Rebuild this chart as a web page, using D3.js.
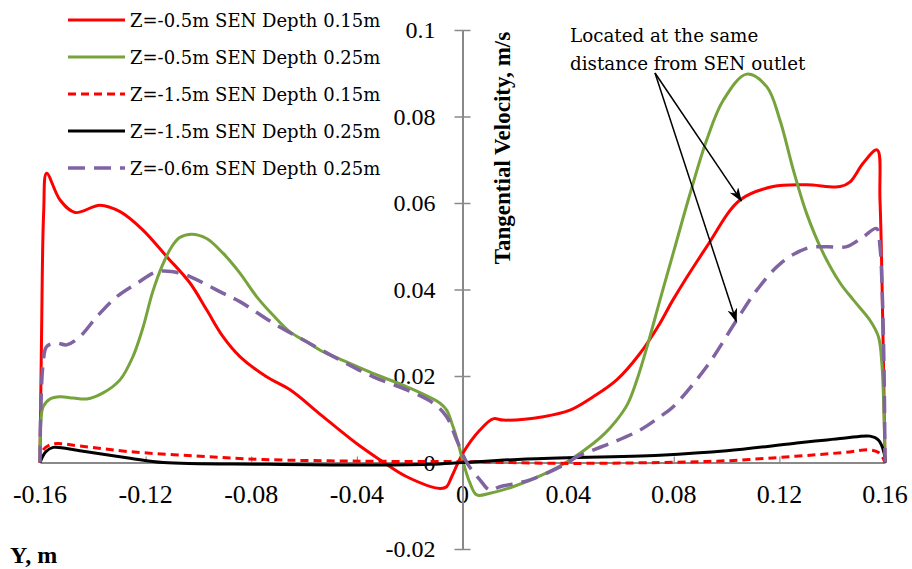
<!DOCTYPE html>
<html>
<head>
<meta charset="utf-8">
<script src="https://cdn.jsdelivr.net/npm/d3@7"></script>
<style>
  body { margin: 0; background: #fff; }
  svg { display: block; }
</style>
</head>
<body>
<div id="root"></div>
<script>
// series: [Y (m), tangential velocity (m/s)]
var redSolid = [
  [-0.1600, 0], [-0.1594, 0.0300], [-0.1586, 0.0580], [-0.1575, 0.0669],
  [-0.1524, 0.0607], [-0.1467, 0.0578], [-0.1373, 0.0595], [-0.1297, 0.0580],
  [-0.1211, 0.0538], [-0.1120, 0.0476], [-0.1032, 0.0415], [-0.0969, 0.0353],
  [-0.0907, 0.0291], [-0.0843, 0.0245], [-0.0742, 0.0198], [-0.0653, 0.0168],
  [-0.0528, 0.0106], [-0.0401, 0.0044], [-0.0312, 0.0006], [-0.0211, -0.0033],
  [-0.0085, -0.0060], [-0.0060, -0.0056], [-0.0041, -0.0033], [0.0002, 0.0022],
  [0.0066, 0.0075], [0.0116, 0.0101], [0.0155, 0.0098], [0.0306, 0.0106],
  [0.0407, 0.0121], [0.0495, 0.0152], [0.0584, 0.0191], [0.0672, 0.0252],
  [0.0748, 0.0322], [0.0797, 0.0376], [0.0925, 0.0499], [0.1051, 0.0607],
  [0.1176, 0.0638], [0.1303, 0.0642], [0.1430, 0.0638], [0.1468, 0.0649],
  [0.1517, 0.0692], [0.1570, 0.0723], [0.1581, 0.0607], [0.1592, 0.0306],
  [0.1600, 0]
];
var greenSolid = [
  [-0.1600, 0], [-0.1597, 0.0091], [-0.1588, 0.0129], [-0.1562, 0.0147],
  [-0.1524, 0.0152], [-0.1474, 0.0149], [-0.1423, 0.0147], [-0.1361, 0.0161],
  [-0.1297, 0.0191], [-0.1248, 0.0245], [-0.1211, 0.0310], [-0.1173, 0.0395],
  [-0.1135, 0.0458], [-0.1100, 0.0500], [-0.1071, 0.0520], [-0.1026, 0.0528],
  [-0.0969, 0.0518], [-0.0907, 0.0484], [-0.0843, 0.0438], [-0.0779, 0.0383],
  [-0.0718, 0.0341], [-0.0653, 0.0302], [-0.0590, 0.0279], [-0.0528, 0.0256],
  [-0.0464, 0.0239], [-0.0339, 0.0206], [-0.0211, 0.0175], [-0.0085, 0.0137],
  [-0.0060, 0.0121], [-0.0036, 0.0083], [-0.0022, 0.0057], [0.0003, 0],
  [0.0028, -0.0047], [0.0054, -0.0075], [0.0104, -0.0071], [0.0191, -0.0056],
  [0.0319, -0.0024], [0.0407, 0.0006], [0.0495, 0.0044], [0.0540, 0.0068],
  [0.0584, 0.0098], [0.0625, 0.0135], [0.0660, 0.0190], [0.0700, 0.0270],
  [0.0748, 0.0376], [0.0798, 0.0484], [0.0862, 0.0622], [0.0925, 0.0746],
  [0.0988, 0.0838], [0.1076, 0.0898], [0.1152, 0.0869], [0.1202, 0.0792],
  [0.1253, 0.0676], [0.1303, 0.0576], [0.1366, 0.0484], [0.1430, 0.0415],
  [0.1480, 0.0376], [0.1543, 0.0329], [0.1575, 0.0291], [0.1588, 0.0230],
  [0.1596, 0.0114], [0.1600, 0]
];
var redDashed = [
  [-0.1600, 0], [-0.1588, 0.0029], [-0.1550, 0.0043], [-0.1448, 0.0038],
  [-0.1259, 0.0025], [-0.1007, 0.0015], [-0.0755, 0.0007], [-0.0377, 0.0003],
  [0.0002, 0.0002], [0.0369, -0.0002], [0.0748, 0], [0.1000, 0.0004],
  [0.1252, 0.0014], [0.1441, 0.0023], [0.1543, 0.0029], [0.1581, 0.0021],
  [0.1600, 0]
];
var blackSolid = [
  [-0.1600, 0], [-0.1578, 0.0025], [-0.1550, 0.0035], [-0.1449, 0.0027],
  [-0.1259, 0.0010], [-0.1133, 0.0000], [-0.0755, -0.0004], [-0.0377, -0.0006],
  [-0.0123, -0.0004], [0.0002, 0], [0.0242, 0.0008], [0.0748, 0.0017],
  [0.1001, 0.0027], [0.1253, 0.0044], [0.1442, 0.0056], [0.1543, 0.0061],
  [0.1575, 0.0052], [0.1597, 0.0021], [0.1600, 0]
];
var purpleDashed = [
  [-0.1600, 0], [-0.1597, 0.0122], [-0.1588, 0.0230], [-0.1575, 0.0268],
  [-0.1537, 0.0276], [-0.1499, 0.0272], [-0.1449, 0.0291], [-0.1385, 0.0337],
  [-0.1310, 0.0383], [-0.1234, 0.0414], [-0.1158, 0.0441], [-0.1095, 0.0441],
  [-0.1032, 0.0430], [-0.0969, 0.0411], [-0.0906, 0.0391], [-0.0843, 0.0372],
  [-0.0716, 0.0322], [-0.0590, 0.0279], [-0.0464, 0.0237], [-0.0338, 0.0198],
  [-0.0211, 0.0168], [-0.0110, 0.0137], [-0.0060, 0.0106], [-0.0022, 0.0052],
  [0.0018, -0.0002], [0.0066, -0.0040], [0.0104, -0.0064], [0.0142, -0.0056],
  [0.0256, -0.0040], [0.0395, -0.0002], [0.0432, 0.0013], [0.0559, 0.0044],
  [0.0672, 0.0075], [0.0748, 0.0106], [0.0798, 0.0129], [0.0925, 0.0222],
  [0.1039, 0.0330], [0.1115, 0.0399], [0.1204, 0.0460], [0.1303, 0.0495],
  [0.1379, 0.0499], [0.1455, 0.0499], [0.1518, 0.0522], [0.1568, 0.0541],
  [0.1581, 0.0499], [0.1588, 0.0422], [0.1596, 0.0230], [0.1600, 0]
];

var seriesNames = [
  'Z=-0.5m SEN Depth 0.15m',
  'Z=-0.5m SEN Depth 0.25m',
  'Z=-1.5m SEN Depth 0.15m',
  'Z=-1.5m SEN Depth 0.25m',
  'Z=-0.6m SEN Depth 0.25m'
];
var xTicks = [-0.16, -0.12, -0.08, -0.04, 0, 0.04, 0.08, 0.12, 0.16];
var xTickLabels = ['-0.16', '-0.12', '-0.08', '-0.04', '0', '0.04', '0.08', '0.12', '0.16'];
var yTicks = [-0.02, 0, 0.02, 0.04, 0.06, 0.08, 0.1];
var yTickLabels = ['-0.02', '0', '0.02', '0.04', '0.06', '0.08', '0.1'];
var noteLines = ['Located at the same', 'distance from SEN outlet'];
// arrow targets (data units) on the red solid and purple dashed curves
var notePoints = [[0.1056, 0.0605], [0.1037, 0.0326]];

var w = 912;
var h = 569;
var styles = [
  { color: '#ff0000', width: 3, dash: null },
  { color: '#77a33d', width: 3, dash: null },
  { color: '#ff0000', width: 3, dash: '8,5' },
  { color: '#000000', width: 3, dash: null },
  { color: '#8064a2', width: 3.5, dash: '17,9' }
];
var allSeries = [redSolid, greenSolid, redDashed, blackSolid, purpleDashed];

var x = d3.scaleLinear().domain([-0.16, 0.16]).range([40, 885]);
var y = d3.scaleLinear().domain([-0.02, 0.1]).range([549, 30]);

var svg = d3.select('#root').append('svg')
  .attr('width', w)
  .attr('height', h);

var defs = svg.append('defs');
defs.append('marker')
  .attr('id', 'arrow')
  .attr('markerUnits', 'userSpaceOnUse')
  .attr('markerWidth', 16)
  .attr('markerHeight', 12)
  .attr('refX', 13)
  .attr('refY', 5)
  .attr('orient', 'auto')
  .append('path')
  .attr('d', 'M0,0 L14,5 L0,10 L4,5 Z')
  .attr('fill', '#000');

var axisColor = '#898989';

// x axis along v = 0, ticks pointing up
var xAxis = svg.append('g')
  .attr('transform', 'translate(0,' + y(0) + ')')
  .call(d3.axisTop(x).tickValues(xTicks).tickSize(6).tickSizeOuter(0).tickFormat(''));
xAxis.select('.domain').attr('stroke', axisColor).attr('stroke-width', 2);
xAxis.selectAll('.tick line').attr('stroke', axisColor).attr('stroke-width', 1.2);

svg.append('g')
  .selectAll('text')
  .data(xTicks)
  .enter()
  .append('text')
  .attr('x', function(d) { return x(d); })
  .attr('y', y(0) + 40)
  .attr('text-anchor', 'middle')
  .attr('font-family', 'Liberation Serif, serif')
  .attr('font-size', 26)
  .text(function(d, i) { return xTickLabels[i]; });

// y axis along Y = 0, ticks crossing
var yAxis = svg.append('g')
  .attr('transform', 'translate(' + x(0) + ',0)')
  .call(d3.axisLeft(y).tickValues(yTicks).tickSize(0).tickSizeOuter(0).tickFormat(''));
yAxis.select('.domain').attr('stroke', axisColor).attr('stroke-width', 2);
yAxis.selectAll('.tick').append('line')
  .attr('x1', -8).attr('x2', 8)
  .attr('stroke', axisColor).attr('stroke-width', 1.5);

svg.append('g')
  .selectAll('text')
  .data(yTicks)
  .enter()
  .append('text')
  .attr('x', x(0) - 27)
  .attr('y', function(d) { return y(d) + 8; })
  .attr('text-anchor', 'end')
  .attr('font-family', 'Liberation Serif, serif')
  .attr('font-size', 24)
  .text(function(d, i) { return yTickLabels[i]; });

// axis titles
svg.append('text')
  .attr('transform', 'translate(510,148) rotate(-90)')
  .attr('text-anchor', 'middle')
  .attr('font-family', 'Liberation Serif, serif')
  .attr('font-weight', 'bold')
  .attr('font-size', 23)
  .text('Tangential Velocity, m/s');

svg.append('text')
  .attr('x', 10)
  .attr('y', 563)
  .attr('font-family', 'Liberation Serif, serif')
  .attr('font-weight', 'bold')
  .attr('font-size', 24)
  .text('Y, m');

// curves
var line = d3.line()
  .x(function(d) { return x(d[0]); })
  .y(function(d) { return y(d[1]); })
  .curve(d3.curveCatmullRom.alpha(0.5));

svg.append('g')
  .attr('id', 'lines')
  .selectAll('path')
  .data(allSeries)
  .enter()
  .append('path')
  .attr('d', line)
  .attr('fill', 'none')
  .attr('stroke', function(d, i) { return styles[i].color; })
  .attr('stroke-width', function(d, i) { return styles[i].width; })
  .attr('stroke-dasharray', function(d, i) { return styles[i].dash; })
  .attr('stroke-linejoin', 'round');

// legend
var legend = svg.append('g').attr('id', 'legend');
var legendItems = legend.selectAll('g')
  .data(seriesNames)
  .enter()
  .append('g')
  .attr('transform', function(d, i) { return 'translate(0,' + (20 + i * 37) + ')'; });
legendItems.append('line')
  .attr('x1', 68).attr('x2', 125)
  .attr('stroke', function(d, i) { return styles[i].color; })
  .attr('stroke-width', function(d, i) { return styles[i].width; })
  .attr('stroke-dasharray', function(d, i) { return styles[i].dash; });
legendItems.append('text')
  .attr('x', 130)
  .attr('y', 6.5)
  .attr('font-family', 'DejaVu Serif, serif')
  .attr('font-size', 18)
  .text(function(d) { return d; });

// annotation
var note = svg.append('g').attr('id', 'note');
note.selectAll('text')
  .data(noteLines)
  .enter()
  .append('text')
  .attr('x', 570)
  .attr('y', function(d, i) { return 42 + i * 28; })
  .attr('font-family', 'DejaVu Serif, serif')
  .attr('font-size', 18.3)
  .text(function(d) { return d; });
note.selectAll('line')
  .data(notePoints)
  .enter()
  .append('line')
  .attr('x1', 655).attr('y1', 73)
  .attr('x2', function(d) { return x(d[0]); })
  .attr('y2', function(d) { return y(d[1]); })
  .attr('stroke', '#000')
  .attr('stroke-width', 1.5)
  .attr('marker-end', 'url(#arrow)');
</script>
</body>
</html>
